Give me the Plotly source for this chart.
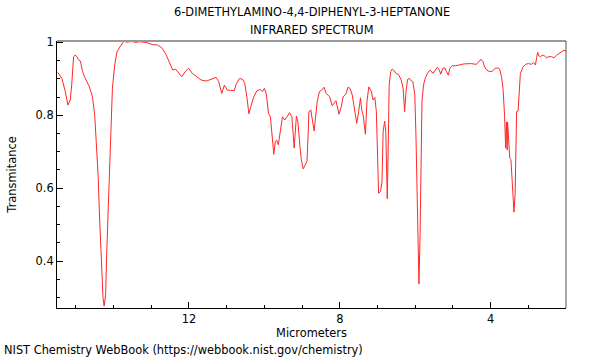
import plotly.graph_objects as go

micrometers = [
    15.48, 15.37, 15.28, 15.21, 15.15, 15.11, 15.06, 15.02, 14.97, 14.93, 14.88, 14.82, 14.77, 14.71,
    14.64, 14.56, 14.50, 14.46, 14.41, 14.37, 14.33, 14.28, 14.25, 14.21, 14.18, 14.13, 14.09, 14.03,
    13.97, 13.91, 13.83, 13.73, 13.64, 13.51, 13.42, 13.32, 13.14, 12.96, 12.83, 12.71, 12.61, 12.52,
    12.43, 12.36, 12.30, 12.19, 12.10, 12.01, 11.91, 11.81, 11.68, 11.54, 11.41, 11.28, 11.21, 11.13,
    11.06, 11.01, 10.98, 10.89, 10.80, 10.74, 10.66, 10.58, 10.52, 10.46, 10.41, 10.36, 10.28, 10.20,
    10.11, 10.05, 10.00, 9.95, 9.89, 9.84, 9.80, 9.75, 9.71, 9.67, 9.63, 9.57, 9.52, 9.46, 9.40, 9.33,
    9.27, 9.21, 9.15, 9.11, 9.06, 9.02, 8.97, 8.91, 8.87, 8.84, 8.82, 8.77, 8.68, 8.60, 8.54, 8.48,
    8.42, 8.36, 8.27, 8.20, 8.14, 8.10, 8.02, 7.96, 7.91, 7.84, 7.78, 7.73, 7.67, 7.61, 7.55, 7.50,
    7.45, 7.42, 7.38, 7.32, 7.28, 7.23, 7.16, 7.12, 7.07, 7.03, 7.01, 6.97, 6.92, 6.88, 6.85, 6.81,
    6.78, 6.74, 6.71, 6.69, 6.65, 6.61, 6.57, 6.51, 6.44, 6.37, 6.32, 6.28, 6.24, 6.20, 6.15, 6.10,
    6.06, 6.01, 5.98, 5.94, 5.91, 5.90, 5.87, 5.84, 5.82, 5.78, 5.73, 5.66, 5.60, 5.53, 5.46, 5.41,
    5.36, 5.32, 5.27, 5.21, 5.17, 5.12, 5.08, 5.02, 4.93, 4.84, 4.71, 4.53, 4.38, 4.31, 4.26, 4.20,
    4.16, 4.10, 4.03, 3.95, 3.88, 3.81, 3.76, 3.71, 3.67, 3.63, 3.60, 3.58, 3.56, 3.55, 3.52, 3.49,
    3.46, 3.43, 3.40, 3.38, 3.35, 3.32, 3.31, 3.27, 3.24, 3.21, 3.14, 3.07, 3.00, 2.92, 2.86, 2.81,
    2.78, 2.75, 2.72, 2.68, 2.63, 2.57, 2.52, 2.45, 2.38, 2.32, 2.25, 2.18, 2.11, 2.06, 2.00,
]
transmittance = [
    0.918, 0.901, 0.865, 0.828, 0.842, 0.883, 0.961, 0.965, 0.961, 0.952, 0.949, 0.920, 0.906, 0.892,
    0.878, 0.851, 0.801, 0.728, 0.636, 0.518, 0.399, 0.299, 0.276, 0.308, 0.426, 0.563, 0.719, 0.874,
    0.938, 0.974, 0.988, 1.003, 1.001, 1.003, 1.000, 1.002, 1.000, 0.994, 0.993, 0.984, 0.967, 0.947,
    0.924, 0.927, 0.920, 0.906, 0.920, 0.929, 0.915, 0.906, 0.897, 0.894, 0.899, 0.904, 0.892, 0.860,
    0.883, 0.876, 0.869, 0.869, 0.867, 0.888, 0.901, 0.899, 0.888, 0.847, 0.804, 0.824, 0.851, 0.867,
    0.871, 0.865, 0.874, 0.860, 0.805, 0.796, 0.755, 0.693, 0.728, 0.732, 0.719, 0.764, 0.796, 0.787,
    0.796, 0.807, 0.796, 0.710, 0.798, 0.782, 0.719, 0.678, 0.653, 0.664, 0.673, 0.746, 0.809, 0.815,
    0.757, 0.837, 0.865, 0.869, 0.877, 0.860, 0.851, 0.826, 0.833, 0.840, 0.803, 0.824, 0.851, 0.858,
    0.877, 0.874, 0.856, 0.815, 0.778, 0.810, 0.848, 0.815, 0.801, 0.748, 0.837, 0.878, 0.865, 0.842,
    0.849, 0.810, 0.700, 0.586, 0.591, 0.618, 0.755, 0.784, 0.755, 0.571, 0.746, 0.883, 0.920, 0.927,
    0.924, 0.915, 0.912, 0.897, 0.874, 0.810, 0.869, 0.899, 0.901, 0.894, 0.892, 0.856, 0.746, 0.563,
    0.399, 0.337, 0.472, 0.700, 0.837, 0.883, 0.903, 0.918, 0.924, 0.915, 0.926, 0.932, 0.924, 0.913,
    0.929, 0.930, 0.920, 0.910, 0.929, 0.936, 0.936, 0.938, 0.941, 0.942, 0.940, 0.947, 0.954, 0.947,
    0.933, 0.924, 0.920, 0.921, 0.929, 0.930, 0.927, 0.906, 0.874, 0.801, 0.710, 0.782, 0.705, 0.781,
    0.719, 0.682, 0.678, 0.627, 0.563, 0.534, 0.582, 0.700, 0.810, 0.812, 0.856, 0.915, 0.933, 0.940,
    0.942, 0.940, 0.945, 0.938, 0.958, 0.973, 0.963, 0.961, 0.965, 0.963, 0.958, 0.961, 0.961, 0.958,
    0.965, 0.970, 0.973, 0.979, 0.976,
]

title_lines = ["6-DIMETHYLAMINO-4,4-DIPHENYL-3-HEPTANONE", "INFRARED SPECTRUM"]
x_label = "Micrometers"
y_label = "Transmitance"
footer = "NIST Chemistry WebBook (https://webbook.nist.gov/chemistry)"

FONT = "DejaVu Sans"
FS = 11.4

fig = go.Figure()
fig.add_trace(go.Scatter(x=micrometers, y=transmittance, mode="lines",
                         line=dict(color="rgb(255,40,40)", width=1), hoverinfo="skip"))

fig.update_layout(
    width=600, height=360,
    margin=dict(l=57, r=34, t=41, b=52),
    paper_bgcolor="white", plot_bgcolor="white",
    showlegend=False,
    font=dict(family=FONT, size=FS, color="black"),
    xaxis=dict(
        range=[15.5, 2.0], showgrid=False, zeroline=False,
        showline=True, linecolor="black", linewidth=1,
        ticks="inside", ticklen=6, tickcolor="black", tickwidth=1,
        tick0=0, dtick=4,
        minor=dict(ticks="inside", ticklen=3, dtick=1, tick0=0, tickcolor="black", showgrid=False),
        tickfont=dict(family=FONT, size=FS),
        title=dict(text=x_label, font=dict(family=FONT, size=FS), standoff=4),
    ),
    yaxis=dict(
        range=[0.271, 1.004], showgrid=False, zeroline=False,
        showline=True, linecolor="black", linewidth=1,
        ticks="inside", ticklen=6, tickcolor="black", tickwidth=1,
        tick0=0, dtick=0.2,
        minor=dict(ticks="inside", ticklen=3, dtick=0.05, tick0=0, tickcolor="black", showgrid=False),
        tickfont=dict(family=FONT, size=FS),
        title=dict(text=y_label, font=dict(family=FONT, size=FS), standoff=16),
    ),
    shapes=[
        dict(type="line", xref="paper", yref="paper", x0=0, x1=1, y0=1, y1=1,
             line=dict(color="#999999", width=2)),
        dict(type="line", xref="paper", yref="paper", x0=1, x1=1, y0=0, y1=1,
             line=dict(color="#555555", width=1)),
    ],
    annotations=[
        dict(text=title_lines[0], xref="paper", yref="paper", x=0.5, y=1, yshift=20,
             xanchor="center", yanchor="bottom", showarrow=False,
             font=dict(family=FONT, size=FS)),
        dict(text=title_lines[1], xref="paper", yref="paper", x=0.5, y=1, yshift=2,
             xanchor="center", yanchor="bottom", showarrow=False,
             font=dict(family=FONT, size=FS)),
        dict(text=footer, xref="paper", yref="paper", x=0, y=0, xshift=-55, yshift=-51,
             xanchor="left", yanchor="bottom", showarrow=False,
             font=dict(family=FONT, size=FS)),
    ],
)

fig.write_html("out.html", config={"displayModeBar": False},
               post_script="document.body.style.margin='0';document.body.style.padding='0';")
